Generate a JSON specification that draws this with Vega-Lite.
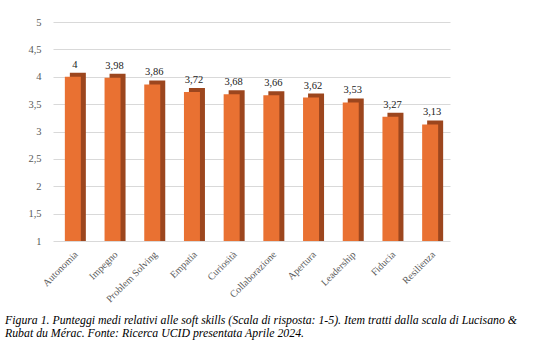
{
  "$schema": "https://vega.github.io/schema/vega-lite/v6.json",
  "autosize": "none",
  "width": 397,
  "height": 219,
  "padding": {"left": 53, "top": 22, "right": 100, "bottom": 115},
  "background": "white",
  "config": {"view": {"stroke": null}, "font": "Liberation Serif"},
  "title": {
    "text": ["Figura 1. Punteggi medi relativi alle soft skills  (Scala di risposta: 1-5). Item tratti dalla scala di Lucisano &", "Rubat du Mérac. Fonte: Ricerca UCID presentata  Aprile 2024."],
    "orient": "bottom",
    "anchor": "start",
    "frame": "group",
    "dx": -48,
    "offset": 11,
    "font": "Liberation Serif",
    "fontStyle": "italic",
    "fontWeight": "normal",
    "fontSize": 11.8,
    "lineHeight": 13.5,
    "color": "#000000"
  },
  "data": {
    "values": [
      {"skill": "Autonomia", "value": 4, "label": "4"},
      {"skill": "Impegno", "value": 3.98, "label": "3,98"},
      {"skill": "Problem Solving", "value": 3.86, "label": "3,86"},
      {"skill": "Empatia", "value": 3.72, "label": "3,72"},
      {"skill": "Curiosità", "value": 3.68, "label": "3,68"},
      {"skill": "Collaborazione", "value": 3.66, "label": "3,66"},
      {"skill": "Apertura", "value": 3.62, "label": "3,62"},
      {"skill": "Leadership", "value": 3.53, "label": "3,53"},
      {"skill": "Fiducia", "value": 3.27, "label": "3,27"},
      {"skill": "Resilienza", "value": 3.13, "label": "3,13"}
    ]
  },
  "encoding": {
    "x": {
      "field": "skill", "type": "nominal", "sort": null,
      "scale": {"paddingInner": 0.6, "paddingOuter": 0.3},
      "axis": {
        "title": null, "labelAngle": -45, "ticks": false, "domain": false,
        "labelFont": "Liberation Serif", "labelFontSize": 10, "labelColor": "#595959",
        "labelPadding": 8
      }
    },
    "y": {
      "field": "value", "type": "quantitative",
      "scale": {"domain": [1, 5], "zero": false, "nice": false},
      "axis": {
        "title": null, "values": [1, 1.5, 2, 2.5, 3, 3.5, 4, 4.5, 5],
        "labelExpr": "replace(format(datum.value, '.1~f'), '.', ',')",
        "ticks": false, "domain": false, "labelPadding": 12,
        "labelFont": "Liberation Serif", "labelFontSize": 10.5, "labelColor": "#595959",
        "gridColor": "#d9d9d9", "gridWidth": 1
      }
    }
  },
  "layer": [
    {
      "mark": {"type": "bar", "color": "#9C461E", "width": 16, "xOffset": 5, "yOffset": -4},
      "encoding": {"y2": {"datum": 1}}
    },
    {
      "mark": {"type": "bar", "color": "#E97132", "width": 16},
      "encoding": {"y2": {"datum": 1}}
    },
    {
      "mark": {"type": "text", "baseline": "bottom", "dy": -7, "dx": 2, "fontSize": 10.5, "font": "Liberation Serif", "color": "#222222"},
      "encoding": {"text": {"field": "label"}}
    }
  ]
}
